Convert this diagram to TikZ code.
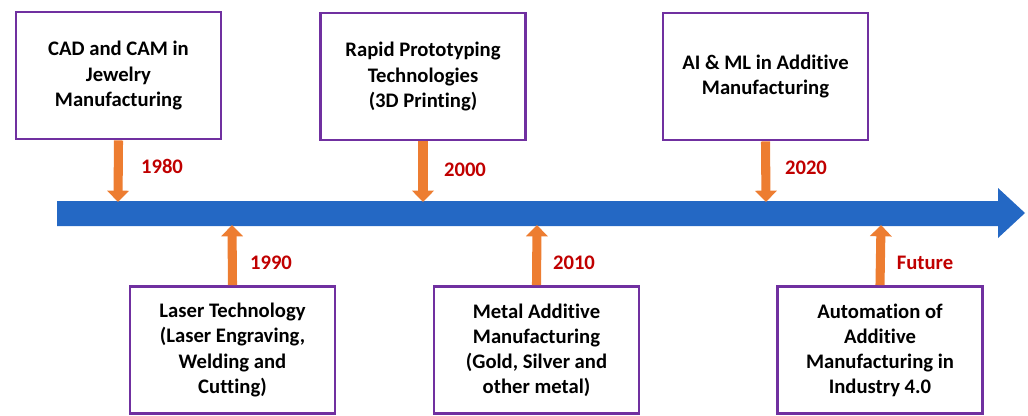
\documentclass[tikz,border=0pt]{standalone}
\usepackage{fontspec}
\setmainfont[Ligatures={NoCommon}]{Carlito}
\usetikzlibrary{arrows.meta}
\definecolor{boxpurple}{RGB}{112,48,160}
\definecolor{arrorange}{RGB}{237,125,49}
\definecolor{lineblue}{RGB}{36,104,196}
\definecolor{yearred}{RGB}{192,0,0}
\tikzset{
  evbox/.style={draw=boxpurple, line width=2.2pt, fill=white, align=center,
    minimum width={205*0.75pt}, minimum height={127*0.75pt}, inner sep=2pt,
    font=\fontsize{15.5pt}{18.8pt}\selectfont\bfseries},
  yearlbl/.style={text=yearred, font=\fontsize{15.5pt}{18.8pt}\selectfont\bfseries, inner sep=0pt},
  evarrow/.style={draw=arrorange, line width=6.8pt,
    -{Triangle[width=16pt,length=8.5pt]}}
}
\begin{document}
\begin{tikzpicture}[x=0.75pt,y=-0.75pt]
\useasboundingbox (0,0) rectangle (1028,415);
% timeline
\fill[lineblue] (57,201) -- (998,201) -- (998,188) -- (1025,213) -- (998,238) -- (998,226) -- (57,226) -- cycle;
\coordinate (t1) at (118,202);
\coordinate (t2) at (423,202);
\coordinate (t3) at (766,202);
\coordinate (b1) at (232,225);
\coordinate (b2) at (537,225);
\coordinate (b3) at (881,225);
% top boxes
\node[evbox] (e1) at (118.5,75.5) {CAD and CAM in\\Jewelry\\Manufacturing};
\node[evbox] (e2) at (423,76.5) {Rapid Prototyping\\Technologies\\(3D Printing)};
\node[evbox] (e3) at (765.5,76.5) {AI \& ML in Additive\\Manufacturing};
% bottom boxes
\node[evbox] (e4) at (232.5,350) {Laser Technology\\(Laser Engraving,\\Welding and\\Cutting)};
\node[evbox] (e5) at (536.5,350) {Metal Additive\\Manufacturing\\(Gold, Silver and\\other metal)};
\node[evbox] (e6) at (880,350) {Automation of\\Additive\\Manufacturing in\\Industry 4.0};
% arrows
\draw[evarrow] (e1.south) -- (t1);
\draw[evarrow] (e2.south) -- (t2);
\draw[evarrow] (e3.south) -- (t3);
\draw[evarrow] (e4.north) -- (b1);
\draw[evarrow] (e5.north) -- (b2);
\draw[evarrow] (e6.north) -- (b3);
% years
\node[yearlbl] (y1) at (162,166) {1980};
\node[yearlbl] (y2) at (465,170) {2000};
\node[yearlbl] (y3) at (806,168) {2020};
\node[yearlbl] (y4) at (271,263) {1990};
\node[yearlbl] (y5) at (574,263) {2010};
\node[yearlbl] (y6) at (925,263) {Future};
\end{tikzpicture}
\end{document}
